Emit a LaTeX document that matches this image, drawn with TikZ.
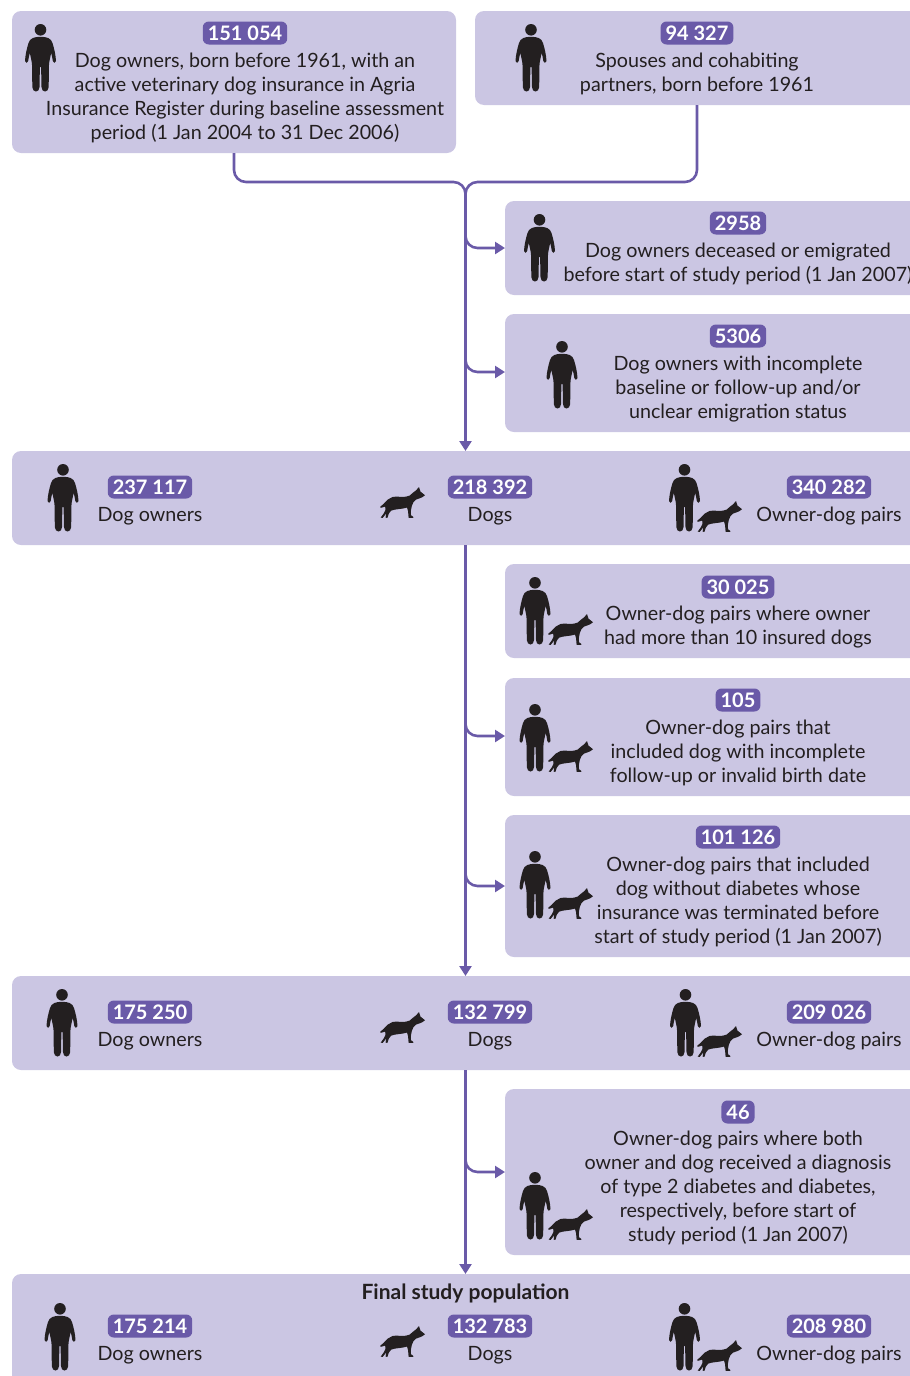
\documentclass[tikz,border=0pt]{standalone}
\usepackage{fontspec}
\setmainfont{Lato}
\definecolor{boxfill}{HTML}{CBC6E3}
\definecolor{accent}{HTML}{6A5AA8}
\definecolor{ink}{HTML}{231F20}
\newcommand{\personshape}[3]{% cx, top, id
\begin{scope}[shift={(#1,#2)}]
\fill[ink] (0,5.8) circle (5.8);
\fill[ink] (0,12.8) .. controls (-6,12.8) and (-10.5,14) .. (-12,19) .. controls (-13.8,25) and (-15.2,31) .. (-15.5,37) .. controls (-15.5,39.5) and (-12.3,39.5) .. (-12.3,37) .. controls (-12,34) and (-11.3,31) .. (-10.6,29) .. controls (-10,33) and (-8.6,37) .. (-8.4,42) -- (-8.2,63) .. controls (-8,69) and (-1,69) .. (-1,63) -- (-.6,43) -- (.6,43) -- (1,63) .. controls (1,69) and (8,69) .. (8.2,63) -- (8.4,42) .. controls (8.6,37) and (10,33) .. (10.6,29) .. controls (11.3,31) and (12,34) .. (12.3,37) .. controls (12.3,39.5) and (15.5,39.5) .. (15.5,37) .. controls (15.2,31) and (13.8,25) .. (12,19) .. controls (10.5,14) and (6,12.8) .. (0,12.8) -- cycle;
\end{scope}}
\newcommand{\dogshape}[2]{% left, top
\begin{scope}[shift={(#1,#2)}]
\fill[ink] (45,8.2) -- (40.5,4.6) -- (39,0) -- (36,3.4) -- (32.7,5.9) .. controls (31,8) and (29,9.4) .. (26,9.7) .. controls (21,10.2) and (16,9.2) .. (12.5,10) .. controls (9,11) and (6.5,13.5) .. (4,16.5) -- (0,20) -- (1,20.8) -- (5.2,19.6) .. controls (6,22) and (5.4,24) .. (4,26) -- (.7,30.6) -- (2.7,30.9) -- (6.3,26.4) -- (5.6,30.6) -- (7.4,30.9) .. controls (8,27.5) and (9.5,25) .. (11.2,23.6) .. controls (15,22) and (22,22.2) .. (27,20.6) .. controls (27.8,23) and (28.5,25) .. (28.3,27) -- (28.6,30.8) -- (33.4,30.9) -- (33,29.6) -- (31,28.3) .. controls (30.6,25) and (31,22) .. (31.8,19) .. controls (32.6,16) and (34,13.8) .. (36,12.6) .. controls (38.5,11.6) and (42,11) .. (45,8.2) -- cycle;
\end{scope}}
\usetikzlibrary{arrows.meta}
\tikzset{
 x=1pt,y=-1pt,
 panel/.style={fill=boxfill,rounded corners=9pt,draw=none},
 count/.style={fill=accent,text=white,font=\fontsize{20}{20}\selectfont\bfseries,rounded corners=6pt,inner xsep=5pt,inner ysep=0pt,minimum height=23pt},
 label/.style={text=ink,font=\fontsize{19.7}{24}\selectfont,align=center,inner sep=0pt,yshift=-2pt},
 link/.style={draw=accent,line width=2.6pt,rounded corners=12pt},
 tip/.style={-{Triangle[length=10pt,width=12pt]}}
}
\begin{document}
\begin{tikzpicture}
\useasboundingbox (0,0) rectangle (910,1376);
% panels
\begin{scope}
\clip (0,0) rectangle (910,1376);
\fill[panel] (12,11) rectangle (456,153);
\fill[panel] (475,11) rectangle (940,105);
\fill[panel] (505,201) rectangle (940,295);
\fill[panel] (505,314) rectangle (940,432);
\fill[panel] (12,451) rectangle (940,545);
\fill[panel] (505,564) rectangle (940,658);
\fill[panel] (505,678) rectangle (940,796);
\fill[panel] (505,815) rectangle (940,957);
\fill[panel] (12,976) rectangle (940,1070);
\fill[panel] (505,1089) rectangle (940,1255);
\fill[panel] (12,1274) rectangle (940,1400);
\end{scope}
% anchors
\coordinate (a1) at (234,153);
\coordinate (a2) at (697,105);
\coordinate (j) at (465.5,182);
\coordinate (p1) at (505,248);
\coordinate (p2) at (505,372);
\coordinate (b1) at (465.5,451);
\coordinate (b2) at (465.5,545);
\coordinate (p3) at (505,736);
\coordinate (p4) at (505,886);
\coordinate (b3) at (465.5,976);
\coordinate (b4) at (465.5,1070);
\coordinate (p5) at (505,1172);
\coordinate (b5) at (465.5,1274);
% connectors
\draw[link] (a1) |- (j) -- (465.5,200);
\draw[link] (a2) |- (j) -- (465.5,200);
\draw[link,tip] (465.5,190) -- (b1);
\draw[link,tip] (465.5,225) |- (p1);
\draw[link,tip] (465.5,350) |- (p2);
\draw[link,tip] (b2) -- (b3);
\draw[link,tip] (465.5,712) |- (p3);
\draw[link,tip] (465.5,862) |- (p4);
\draw[link,tip] (b4) -- (b5);
\draw[link,tip] (465.5,1148) |- (p5);
% box 1
\personshape{40.5}{24}{}
\node[count] (n1) at (245,33) {151 054};
\node[label] (t1) at (245,96) {Dog owners, born before 1961, with an\\active veterinary dog insurance in Agria\\Insurance Register during baseline assessment\\period (1 Jan 2004 to 31 Dec 2006)};
% box 2
\personshape{531}{24}{}
\node[count] (n2) at (697,33) {94 327};
\node[label] (t2) at (697,72) {Spouses and cohabiting\\partners, born before 1961};
% box 3
\personshape{539.5}{214}{}
\node[count] (n3) at (738,223) {2958};
\node[label] (t3) at (738,262) {Dog owners deceased or emigrated\\before start of study period (1 Jan 2007)};
% box 4
\personshape{562}{341}{}
\node[count] (n4) at (738,336) {5306};
\node[label] (t4) at (738,387) {Dog owners with incomplete\\baseline or follow-up and/or\\unclear emigration status};
% row 1
\personshape{63}{464}{}
\node[count] (n5) at (150,487) {237 117};
\node[label] (t5) at (150,514) {Dog owners};
\dogshape{380}{487}
\node[count] (n6) at (490,487) {218 392};
\node[label] (t6) at (490,514) {Dogs};
\personshape{684.5}{464}{}
\dogshape{697}{501}
\node[count] (n7) at (829,487) {340 282};
\node[label] (t7) at (829,514) {Owner-dog pairs};
% box 5
\personshape{535}{577}{}
\dogshape{548}{614}
\node[count] (n8) at (738,587) {30 025};
\node[label] (t8) at (738,625) {Owner-dog pairs where owner\\had more than 10 insured dogs};
% box 6
\personshape{535}{704}{}
\dogshape{548}{741}
\node[count] (n9) at (738,700) {105};
\node[label] (t9) at (738,751) {Owner-dog pairs that\\included dog with incomplete\\follow-up or invalid birth date};
% box 7
\personshape{535}{851}{}
\dogshape{548}{888}
\node[count] (n10) at (738,837) {101 126};
\node[label] (t10) at (738,900) {Owner-dog pairs that included\\dog without diabetes whose\\insurance was terminated before\\start of study period (1 Jan 2007)};
% row 2
\personshape{62}{989}{}
\node[count] (n11) at (150,1012) {175 250};
\node[label] (t11) at (150,1039) {Dog owners};
\dogshape{380}{1012}
\node[count] (n12) at (490,1012) {132 799};
\node[label] (t12) at (490,1039) {Dogs};
\personshape{685.5}{989}{}
\dogshape{697}{1026}
\node[count] (n13) at (829,1012) {209 026};
\node[label] (t13) at (829,1039) {Owner-dog pairs};
% box 8
\personshape{535}{1172}{}
\dogshape{548}{1209}
\node[count] (n14) at (738,1112) {46};
\node[label] (t14) at (738,1186) {Owner-dog pairs where both\\owner and dog received a diagnosis\\of type 2 diabetes and diabetes,\\respectively, before start of\\study period (1 Jan 2007)};
% row 3
\node[label,font=\fontsize{21}{24}\selectfont\bfseries] (t15) at (465.5,1291) {Final study population};
\personshape{60}{1303}{}
\node[count] (n15) at (150,1326) {175 214};
\node[label] (t16) at (150,1353) {Dog owners};
\dogshape{380}{1326}
\node[count] (n16) at (490,1326) {132 783};
\node[label] (t17) at (490,1353) {Dogs};
\personshape{684.5}{1303}{}
\dogshape{697}{1340}
\node[count] (n17) at (829,1326) {208 980};
\node[label] (t18) at (829,1353) {Owner-dog pairs};
\end{tikzpicture}
\end{document}
